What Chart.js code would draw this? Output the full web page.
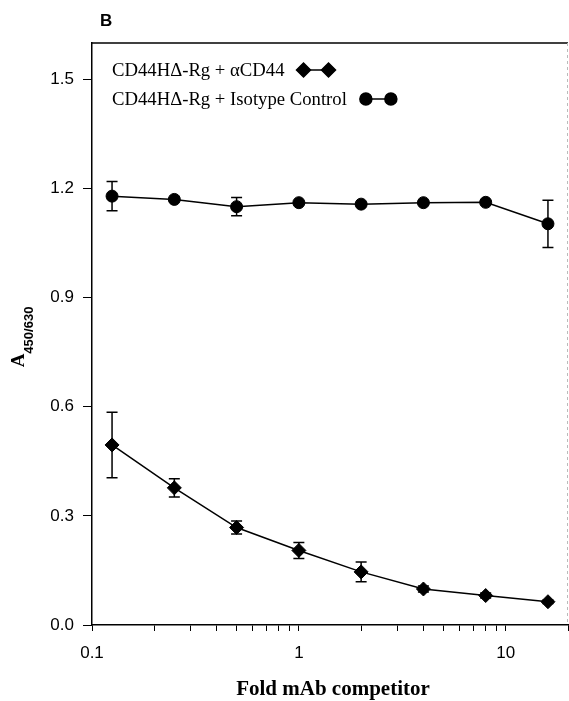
<!DOCTYPE html>
<html>
<head>
    <title>Fold mAb competitor</title>
    <style>
        body { margin: 0; background: #fff; }
        canvas { display: block; }
    </style>
    <script src="https://cdn.jsdelivr.net/npm/chart.js"></script>
</head>
<body>
    <canvas id="competitionChart" width="569" height="701"></canvas>
    <script>
        // Fold excess of competitor mAb (x, log axis)
        const folds = [0.125, 0.25, 0.5, 1, 2, 4, 8, 16];
        // CD44HΔ-Rg + αCD44 (diamonds)
        const antiCd44 = [0.495, 0.377, 0.268, 0.205, 0.146, 0.099, 0.081, 0.064];
        const antiCd44Err = [0.09, 0.025, 0.018, 0.022, 0.027, 0.008, 0.007, 0.005];
        // CD44HΔ-Rg + Isotype Control (circles)
        const isotype = [1.179, 1.170, 1.150, 1.161, 1.157, 1.161, 1.162, 1.103];
        const isotypeErr = [0.04, 0.004, 0.025, 0.004, 0.004, 0.004, 0.004, 0.065];

        const seriesNames = ['CD44H\u0394-Rg + \u03b1CD44', 'CD44H\u0394-Rg + Isotype Control'];
        const yTicks = [0, 0.3, 0.6, 0.9, 1.2, 1.5];
        const xLabelTicks = [0.1, 1, 10];

        const serif = '"Liberation Serif", "Times New Roman", serif';
        const sans = '"Liberation Sans", Arial, sans-serif';

        // error bars, drawn under the markers
        const errorBars = {
            id: 'errorBars',
            beforeDatasetsDraw(chart) {
                const ctx = chart.ctx;
                const xs = chart.scales.x, ys = chart.scales.y;
                ctx.save();
                ctx.strokeStyle = '#000';
                ctx.lineWidth = 1.5;
                chart.data.datasets.forEach(function (ds) {
                    ds.data.forEach(function (p, i) {
                        const e = ds.errors[i];
                        const x = xs.getPixelForValue(p.x);
                        const top = ys.getPixelForValue(p.y + e);
                        const bot = ys.getPixelForValue(p.y - e);
                        ctx.beginPath();
                        ctx.moveTo(x, top); ctx.lineTo(x, bot);
                        ctx.moveTo(x - 5.5, top); ctx.lineTo(x + 5.5, top);
                        ctx.moveTo(x - 5.5, bot); ctx.lineTo(x + 5.5, bot);
                        ctx.stroke();
                    });
                });
                ctx.restore();
            }
        };

        // frame, panel letter, axis titles and the in-plot legend
        const decorations = {
            id: 'decorations',
            afterDraw(chart) {
                const ctx = chart.ctx;
                const area = chart.chartArea;
                ctx.save();

                // top frame line
                ctx.strokeStyle = '#000';
                ctx.lineWidth = 1.5;
                ctx.beginPath();
                ctx.moveTo(area.left, area.top);
                ctx.lineTo(area.right, area.top);
                ctx.stroke();
                // faint right edge
                ctx.strokeStyle = '#bbb';
                ctx.lineWidth = 1;
                ctx.setLineDash([3, 3]);
                ctx.beginPath();
                ctx.moveTo(area.right - 0.5, area.top);
                ctx.lineTo(area.right - 0.5, area.bottom);
                ctx.stroke();
                ctx.setLineDash([]);

                ctx.fillStyle = '#000';
                // panel letter
                ctx.font = 'bold 17px ' + sans;
                ctx.textBaseline = 'middle';
                ctx.textAlign = 'left';
                ctx.fillText('B', 100, 21);

                // x title
                ctx.font = 'bold 21px ' + serif;
                ctx.textAlign = 'center';
                ctx.fillText('Fold mAb competitor', 333, 690);

                // y title A450/630
                ctx.save();
                ctx.translate(24, 337);
                ctx.rotate(-Math.PI / 2);
                ctx.textAlign = 'left';
                ctx.textBaseline = 'alphabetic';
                ctx.font = 'bold 19px ' + serif;
                const aW = ctx.measureText('A').width;
                ctx.font = 'bold 13px ' + sans;
                const subW = ctx.measureText('450/630').width;
                const x0 = -(aW + subW) / 2;
                ctx.font = 'bold 19px ' + serif;
                ctx.fillText('A', x0, 0);
                ctx.font = 'bold 13px ' + sans;
                ctx.fillText('450/630', x0 + aW, 9);
                ctx.restore();

                // legend
                ctx.font = '18.7px ' + serif;
                ctx.textAlign = 'left';
                ctx.textBaseline = 'middle';
                const rows = [70, 99];
                chart.data.datasets.forEach(function (ds, i) {
                    const y = rows[i];
                    ctx.fillStyle = '#000';
                    ctx.fillText(seriesNames[i], 112, y + 1);
                    const end = 112 + ctx.measureText(seriesNames[i]).width;
                    const m1 = end + 19, m2 = m1 + 25;
                    ctx.strokeStyle = '#000';
                    ctx.lineWidth = 1.5;
                    ctx.beginPath();
                    ctx.moveTo(m1, y); ctx.lineTo(m2, y);
                    ctx.stroke();
                    [m1, m2].forEach(function (mx) {
                        Chart.helpers.drawPoint(ctx, {
                            pointStyle: ds.pointStyle,
                            radius: ds.pointRadius,
                            borderWidth: 1
                        }, mx, y);
                        ctx.fill();
                    });
                });
                ctx.restore();
            }
        };

        const ctx = document.getElementById('competitionChart').getContext('2d');
        const myChart = new Chart(ctx, {
            type: 'scatter',
            data: {
                datasets: [{
                    label: seriesNames[0],
                    data: folds.map(function (f, i) { return { x: f, y: antiCd44[i] }; }),
                    errors: antiCd44Err,
                    showLine: true,
                    borderColor: '#000',
                    backgroundColor: '#000',
                    borderWidth: 1.5,
                    pointStyle: 'rectRot',
                    pointRadius: 7,
                    pointBorderWidth: 1,
                    tension: 0
                }, {
                    label: seriesNames[1],
                    data: folds.map(function (f, i) { return { x: f, y: isotype[i] }; }),
                    errors: isotypeErr,
                    showLine: true,
                    borderColor: '#000',
                    backgroundColor: '#000',
                    borderWidth: 1.5,
                    pointStyle: 'circle',
                    pointRadius: 6,
                    pointBorderWidth: 1,
                    tension: 0
                }]
            },
            options: {
                responsive: false,
                animation: false,
                layout: {
                    autoPadding: false,
                    padding: { top: 43, right: 1, left: 0, bottom: 0 }
                },
                plugins: {
                    legend: { display: false },
                    tooltip: { enabled: false }
                },
                scales: {
                    x: {
                        type: 'logarithmic',
                        min: 0.1,
                        max: 20,
                        border: { display: true, color: '#000', width: 1.5 },
                        grid: { drawOnChartArea: false, color: '#000', tickLength: 6, tickWidth: 1 },
                        afterBuildTicks: function (scale) {
                            const vals = [];
                            [0.1, 1, 10].forEach(function (d) {
                                for (let k = 1; k <= 9; k++) {
                                    const v = +(d * k).toPrecision(3);
                                    if (v <= 20) vals.push(v);
                                }
                            });
                            vals.push(20);
                            scale.ticks = vals.map(function (v) { return { value: v }; });
                        },
                        afterFit: function (scale) {
                            scale.height = 76;
                            scale.paddingRight = 0; // no room kept for the unlabelled last tick
                        },
                        ticks: {
                            autoSkip: false,
                            maxRotation: 0,
                            padding: 12,
                            color: '#000',
                            font: { family: sans, size: 17 },
                            callback: function (value) {
                                return xLabelTicks.includes(value) ? String(value) : '';
                            }
                        }
                    },
                    y: {
                        min: 0,
                        max: 1.6,
                        border: { display: true, color: '#000', width: 1.5 },
                        grid: { drawOnChartArea: false, color: '#000', tickLength: 9, tickWidth: 1 },
                        afterBuildTicks: function (scale) {
                            scale.ticks = yTicks.map(function (v) { return { value: v }; });
                        },
                        afterFit: function (scale) { scale.width = 92; },
                        ticks: {
                            padding: 9,
                            color: '#000',
                            font: { family: sans, size: 17 },
                            callback: function (value) { return value.toFixed(1); }
                        }
                    }
                }
            },
            plugins: [errorBars, decorations]
        });
    </script>
</body>
</html>
